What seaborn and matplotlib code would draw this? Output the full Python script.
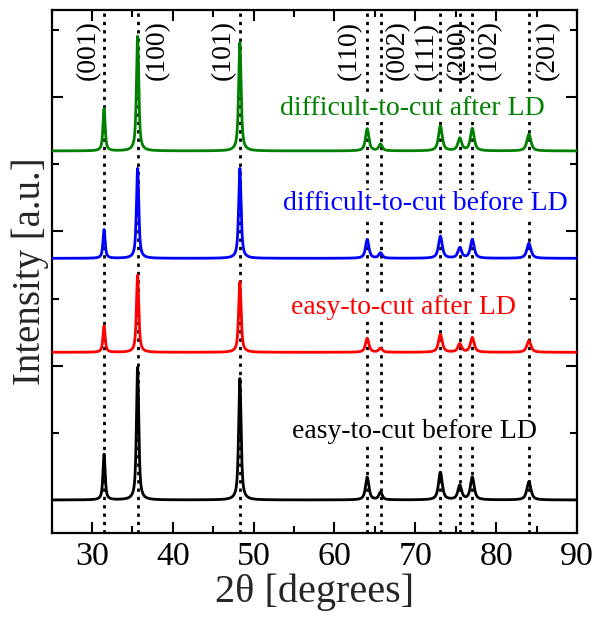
import numpy as np
import pandas as pd
import matplotlib
matplotlib.use("Agg")
import matplotlib.pyplot as plt
from matplotlib.ticker import MultipleLocator
import seaborn as sns

# WC reflections: 2-theta positions (degrees) and Miller indices
peak_pos = [31.5, 35.65, 48.3, 64.05, 65.7, 73.1, 75.5, 77.05, 84.05]
peak_hkl = ["(001)", "(100)", "(101)", "(110)", "(002)", "(111)", "(200)", "(102)", "(201)"]
peak_fwhm = [0.32, 0.34, 0.36, 0.50, 0.50, 0.55, 0.55, 0.55, 0.60]

# sample names, vertical offsets and peak intensities (a.u.)
samples = ["easy-to-cut before LD", "easy-to-cut after LD",
           "difficult-to-cut before LD", "difficult-to-cut after LD"]
offsets = [0.00, 1.10, 1.80, 2.60]
int_easy_before = [0.34, 0.99, 0.905, 0.169, 0.057, 0.206, 0.107, 0.169, 0.136]
int_easy_after = [0.196, 0.575, 0.526, 0.104, 0.030, 0.134, 0.062, 0.109, 0.087]
int_diff_before = [0.214, 0.670, 0.670, 0.139, 0.040, 0.164, 0.077, 0.139, 0.112]
int_diff_after = [0.316, 0.854, 0.807, 0.165, 0.050, 0.186, 0.092, 0.166, 0.124]
intensities = [int_easy_before, int_easy_after, int_diff_before, int_diff_after]
colors = ["black", "#ff0000", "#0000ff", "#008000"]

# label placement (layout only)
sample_label_xy = [(69.85, 0.462), (68.5, 1.385), (71.27, 2.159), (69.6, 2.867)]
hkl_dx_pt = [-11, 14, -12, -12.5, 12, -10, -1, 12, 13]

sns.set_theme(style="ticks")
plt.rcParams["font.family"] = ["Liberation Serif", "DejaVu Serif"]

fig = plt.figure(figsize=(5.95, 6.23), dpi=100)
ax = fig.add_axes([51.5 / 595, 1 - 533 / 623, (577 - 51.5) / 595, (533 - 10) / 623])

tt = np.arange(25.0, 90.0001, 0.01)
frames = []
for name, off, amp in zip(samples, offsets, intensities):
    y = np.full_like(tt, off)
    for p, h, w in zip(peak_pos, amp, peak_fwhm):
        g = (w / 2) ** 2
        lor = g / ((tt - p) ** 2 + g)
        gau = np.exp(-4 * np.log(2) * ((tt - p) / w) ** 2)
        y += h * (0.75 * lor + 0.25 * gau)
    frames.append(pd.DataFrame({"two_theta": tt, "intensity": y, "sample": name}))
df = pd.concat(frames, ignore_index=True)

for name, col in zip(samples, colors):
    sns.lineplot(data=df[df["sample"] == name], x="two_theta", y="intensity",
                 color=col, lw=2.0, ax=ax, estimator=None, sort=False, zorder=3)

for p in peak_pos:
    ax.axvline(p, color="black", lw=2.0, ls=(0, (1.2, 1.8)), zorder=2)

for p, lab, dx in zip(peak_pos, peak_hkl, hkl_dx_pt):
    ax.annotate(lab, xy=(p, 3.125), xytext=(dx, 0), textcoords="offset points",
                rotation=90, ha="center", va="bottom", fontsize=20, color="black",
                zorder=4)

for name, col, (lx, ly) in zip(samples, colors, sample_label_xy):
    ax.text(lx, ly, name, color=col, fontsize=20, ha="center", va="baseline",
            zorder=5, bbox=dict(facecolor="white", edgecolor="none", pad=1.0))

ax.set_xlim(25, 90)
ax.set_ylim(-0.246, 3.65)
ax.xaxis.set_major_locator(MultipleLocator(10))
ax.xaxis.set_minor_locator(MultipleLocator(5))
ax.yaxis.set_major_locator(MultipleLocator(1))
ax.yaxis.set_minor_locator(MultipleLocator(0.5))
ax.tick_params(which="both", direction="in", top=True, right=True, width=1.5,
               labelsize=24.5, labelleft=False, pad=6, colors="black")
ax.tick_params(which="major", length=8)
ax.tick_params(which="minor", length=5)
for s in ax.spines.values():
    s.set_linewidth(1.6)
    s.set_color("black")

ax.set_xlabel("2θ [degrees]", fontsize=29, labelpad=1)
ax.set_ylabel("Intensity [a.u.]", fontsize=28, labelpad=1.5)

fig.savefig("out.png", dpi=100)
